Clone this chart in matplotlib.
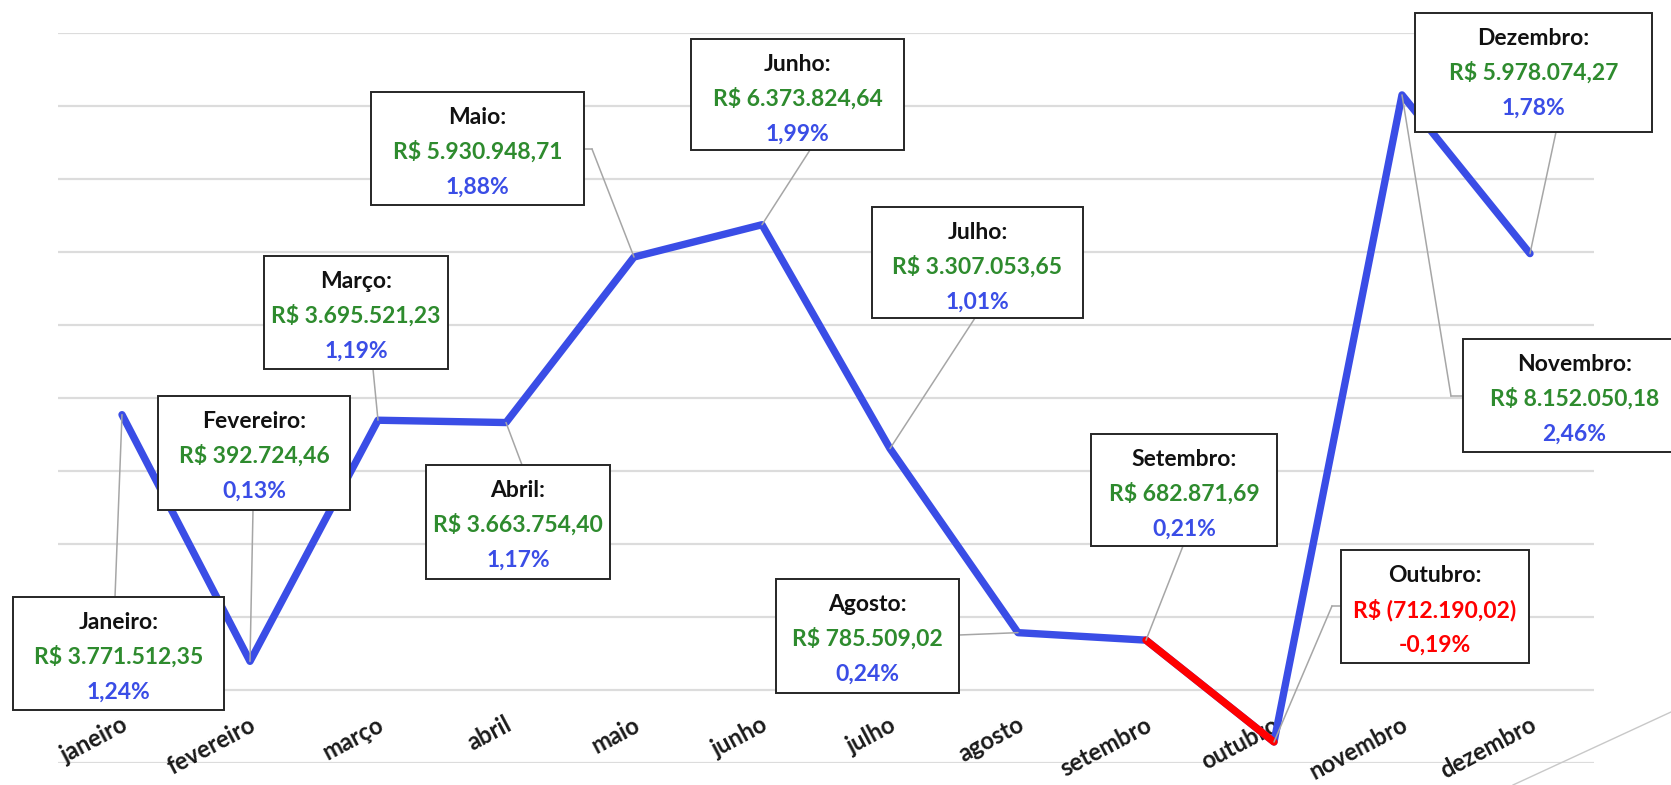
import matplotlib
matplotlib.use("Agg")
import matplotlib.pyplot as plt
from matplotlib.patches import Rectangle, ConnectionPatch
from matplotlib.lines import Line2D
from matplotlib.transforms import blended_transform_factory

W, H = 1671, 785

# dados
meses = ['janeiro', 'fevereiro', 'março', 'abril', 'maio', 'junho', 'julho',
         'agosto', 'setembro', 'outubro', 'novembro', 'dezembro']
titulos = ['Janeiro:', 'Fevereiro:', 'Março:', 'Abril:', 'Maio:', 'Junho:', 'Julho:',
           'Agosto:', 'Setembro:', 'Outubro:', 'Novembro:', 'Dezembro:']
valores = [3771512.35, 392724.46, 3695521.23, 3663754.40, 5930948.71, 6373824.64,
           3307053.65, 785509.02, 682871.69, -712190.02, 8152050.18, 5978074.27]
percentuais = [1.24, 0.13, 1.19, 1.17, 1.88, 1.99, 1.01, 0.24, 0.21, -0.19, 2.46, 1.78]

# caixas dos rótulos (esq, topo, dir, base) em pixels a partir do canto superior esquerdo
caixas = [(13, 597, 224, 710), (158, 396, 350, 510), (264, 256, 448, 369), (426, 465, 610, 579),
          (371, 92, 584, 205), (691, 39, 904, 150), (872, 207, 1083, 318), (776, 579, 959, 693),
          (1091, 434, 1277, 546), (1341, 550, 1529, 663), (1463, 339, 1686, 452), (1415, 13, 1652, 132)]
# linhas de chamada: (cotovelo ou None, ponto na caixa)
chamadas = [(None, (115, 597)), (None, (253, 510)), (None, (373, 369)), (None, (522, 465)),
            ((592, 149), (584, 149)), (None, (810, 150)), (None, (975, 318)), (None, (959, 635)),
            (None, (1183, 546)), ((1332, 606), (1341, 606)), ((1451, 396), (1463, 396)), (None, (1556, 132))]

AZUL = '#3a4de6'
VERDE = '#2e8b2e'
VERMELHO = '#ff0000'
FONTE = 'Lato'


def moeda(v):
    s = f"{abs(v):,.2f}".replace(',', 'X').replace('.', ',').replace('X', '.')
    return f"R$ ({s})" if v < 0 else f"R$ {s}"


def fig_xy(x, y):
    return (x / W, 1 - y / H)


fig = plt.figure(figsize=(W / 100, H / 100), dpi=100)
fig.patch.set_facecolor('white')
ax = fig.add_axes([58 / W, 1 - 763 / H, (1594 - 58) / W, (763 - 33) / H])
ax.patch.set_visible(False)

x = list(range(len(meses)))
ax.plot(x, valores, color=AZUL, lw=5.3, solid_joinstyle='round', solid_capstyle='round', zorder=3)
ax.plot(x[8:10], valores[8:10], color=VERMELHO, lw=5.3, solid_joinstyle='round', solid_capstyle='round', zorder=4)

ax.set_xlim(-0.5, 11.5)
ax.set_ylim(-1e6, 9e6)
ax.set_yticks([i * 1e6 for i in range(-1, 10)])
ax.set_xticks([])
ax.yaxis.grid(True, color='#dcdcdc', lw=1.6)
ax.set_axisbelow(True)
ax.tick_params(left=False, labelleft=False, bottom=False, labelbottom=False)
for s in ax.spines.values():
    s.set_visible(False)

trans = blended_transform_factory(ax.transData, fig.transFigure)
for i, m in enumerate(meses):
    ax.text(i - 0.01, 1 - 713 / H, m, transform=trans, rotation=28, rotation_mode='anchor',
            ha='right', va='top', fontsize=17, fontweight='bold', family=FONTE, color='#1a1a1a', zorder=2)

for i in range(len(meses)):
    cot, fim = chamadas[i]
    alvo = cot if cot else fim
    con = ConnectionPatch(xyA=(i, valores[i]), coordsA=ax.transData, xyB=fig_xy(*alvo),
                          coordsB=fig.transFigure, color='#a6a6a6', lw=1.1, zorder=1)
    fig.add_artist(con)
    if cot:
        fig.add_artist(Line2D([cot[0] / W, fim[0] / W], [1 - cot[1] / H, 1 - fim[1] / H],
                              color='#a6a6a6', lw=1.1, zorder=1))

    L, T, R, B = caixas[i]
    fig.add_artist(Rectangle(fig_xy(L, B), (R - L) / W, (B - T) / H, transform=fig.transFigure,
                             facecolor='white', edgecolor='#262626', lw=1.4, zorder=5))
    cx = (L + R) / 2
    negativo = valores[i] < 0
    cor_val = VERMELHO if negativo else VERDE
    cor_pct = VERMELHO if negativo else AZUL
    pct = f"{percentuais[i]:.2f}%".replace('.', ',')
    fig.text(*fig_xy(cx, T + 32), titulos[i], ha='center', va='baseline', fontsize=16.5,
             fontweight='bold', family=FONTE, color='#111111', zorder=6)
    fig.text(*fig_xy(cx, T + 67), moeda(valores[i]), ha='center', va='baseline', fontsize=16.5,
             fontweight='bold', family=FONTE, color=cor_val, zorder=6)
    fig.text(*fig_xy(cx, T + 102), pct, ha='center', va='baseline', fontsize=16.5,
             fontweight='bold', family=FONTE, color=cor_pct, zorder=6)

# traço decorativo no canto inferior direito
fig.add_artist(Line2D([1513 / W, 1], [0, 1 - 712 / H], color='#c8c8c8', lw=1, zorder=1))

fig.savefig('out.png', dpi=100, facecolor='white')
